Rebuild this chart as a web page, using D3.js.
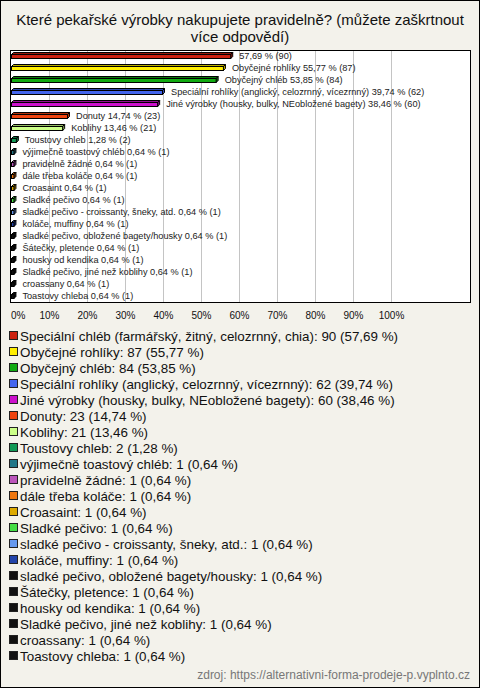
<!DOCTYPE html>
<html><head><meta charset="utf-8">
<script src="https://cdn.jsdelivr.net/npm/d3@7/dist/d3.min.js"></script>
<style>body{margin:0;background:#f3f2eb}svg{display:block}</style>
</head><body><svg id="c" width="480" height="688"></svg>
<script>
const categories = [
  "Speciální chléb (farmářský, žitný, celozrnný, chia)",
  "Obyčejné rohlíky",
  "Obyčejný chléb",
  "Speciální rohlíky (anglický, celozrnný, vícezrnný)",
  "Jiné výrobky (housky, bulky, NEobložené bagety)",
  "Donuty",
  "Koblihy",
  "Toustovy chleb",
  "výjimečně toastový chléb",
  "pravidelně žádné",
  "dále třeba koláče",
  "Croasaint",
  "Sladké pečivo",
  "sladké pečivo - croissanty, šneky, atd.",
  "koláče, muffiny",
  "sladké pečivo, obložené bagety/housky",
  "Šátečky, pletence",
  "housky od kendika",
  "Sladké pečivo, jiné než koblihy",
  "croassany",
  "Toastovy chleba"
];
const counts = [90, 87, 84, 62, 60, 23, 21, 2, 1, 1, 1, 1, 1, 1, 1, 1, 1, 1, 1, 1, 1];
const percents = [57.69, 55.77, 53.85, 39.74, 38.46, 14.74, 13.46, 1.28, 0.64, 0.64, 0.64, 0.64, 0.64, 0.64, 0.64, 0.64, 0.64, 0.64, 0.64, 0.64, 0.64];
const colors = ["#cc2211", "#ffee00", "#11aa11", "#4466ee", "#cc11cc", "#ee4411", "#ccff88", "#119955",
  "#227788", "#bb55bb", "#ee7711", "#ddaa00", "#44dd44", "#6699ee", "#2244aa",
  "#111111", "#111111", "#111111", "#111111", "#111111", "#111111"];
const xTicks = [0, 10, 20, 30, 40, 50, 60, 70, 80, 90, 100];
const titleLines = ["Které pekařské výrobky nakupujete pravidelně? (můžete zaškrtnout", "více odpovědí)"];
const source = "zdroj: https://alternativni-forma-prodeje-p.vyplnto.cz";

const fmt = v => v.toFixed(2).replace(".", ",");
const svg = d3.select("#c");
const W = 480, H = 688;
const data = categories.map((c, i) => ({name: c, count: counts[i], pct: percents[i], color: colors[i]}));

svg.append("rect").attr("x", 0.5).attr("y", 0.5).attr("width", W - 1).attr("height", H - 1)
  .attr("fill", "#f3f2eb").attr("stroke", "#000");

const tg = svg.append("g").attr("font-family", "Liberation Sans, Arial, sans-serif").attr("font-size", 15).attr("fill", "#111").attr("text-anchor", "middle");
titleLines.forEach((t, i) => tg.append("text").attr("x", 240).attr("y", 25 + i * 16.5).text(t));

// plot area
const box = {x0: 10.5, y0: 50.5, x1: 470.5, y1: 302.5};
svg.append("rect").attr("x", box.x0).attr("y", box.y0).attr("width", box.x1 - box.x0).attr("height", box.y1 - box.y0)
  .attr("fill", "#fff").attr("stroke", "#000");

const x = d3.scaleLinear().domain([0, 100]).range([11, 391]);
const y = d3.scaleBand().domain(categories).range([50, 302]);

svg.append("g").selectAll("line").data(xTicks.slice(1)).join("line")
  .attr("x1", d => Math.round(x(d)) + 0.5).attr("x2", d => Math.round(x(d)) + 0.5)
  .attr("y1", box.y0 + 0.5).attr("y2", box.y1 - 0.5).attr("stroke", "#c4c4c4");

const axis = d3.axisBottom(x).tickValues(xTicks).tickSize(0).tickFormat(d => d + "%");
const ag = svg.append("g").attr("transform", "translate(0,309)").call(axis);
ag.select(".domain").remove();
ag.selectAll("text").attr("font-family", "Liberation Sans, Arial, sans-serif").attr("font-size", 10).attr("fill", "#111")
  .attr("text-anchor", d => d === 0 ? "start" : "middle").attr("dx", d => d === 0 ? -0.5 : 0);

// 3D bars
const depth = 2;
const bg = svg.append("g");
data.forEach(d => {
  const cy = y(d.name) + y.bandwidth() / 2;
  const x0 = x(0) + 0.5, x1 = x(d.pct) + 0.5;
  const top = Math.round(cy) - 1.5, bot = Math.round(cy) + 2.5;
  const dark = d3.color(d.color).darker(0.9);
  const g = bg.append("g").attr("stroke", "#000").attr("stroke-width", 1).attr("stroke-linejoin", "miter");
  g.append("path").attr("d", `M${x0},${top}L${x0 + depth},${top - depth}L${x1 + depth},${top - depth}L${x1},${top}Z`).attr("fill", dark);
  g.append("path").attr("d", `M${x1},${top}L${x1 + depth},${top - depth}L${x1 + depth},${bot - depth}L${x1},${bot}Z`).attr("fill", dark);
  g.append("rect").attr("x", x0).attr("y", top).attr("width", Math.max(0, x1 - x0)).attr("height", bot - top).attr("fill", d.color);
  const label = (d.name.length <= 50 ? d.name + " " : "") + fmt(d.pct) + " % (" + d.count + ")";
  bg.append("text").attr("x", x(d.pct) + 9).attr("y", cy + 3)
    .attr("font-family", "Liberation Sans, Arial, sans-serif").attr("font-size", 9.2).attr("fill", "#222").text(label);
});

// legend
const lg = svg.append("g").attr("font-family", "Liberation Sans, Arial, sans-serif").attr("font-size", 13.4).attr("fill", "#111");
data.forEach((d, i) => {
  const cy = 336 + i * 16;
  lg.append("rect").attr("x", 9.5).attr("y", cy - 4.5).attr("width", 8).attr("height", 8)
    .attr("fill", d.color).attr("stroke", "#222");
  lg.append("text").attr("x", 20).attr("y", cy + 4.5).text(d.name + ": " + d.count + " (" + fmt(d.pct) + " %)");
});

svg.append("text").attr("x", 470).attr("y", 679).attr("text-anchor", "end")
  .attr("font-family", "Liberation Sans, Arial, sans-serif").attr("font-size", 12).attr("fill", "#777").text(source);
</script></body></html>
